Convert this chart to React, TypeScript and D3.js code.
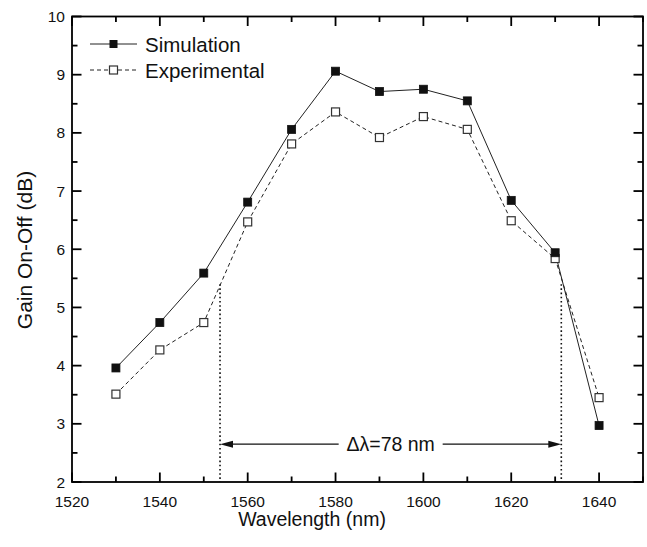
import React from "react";
import * as d3 from "d3";

const wavelengths = [1530, 1540, 1550, 1560, 1570, 1580, 1590, 1600, 1610, 1620, 1630, 1640];
const simulation = [3.96, 4.74, 5.59, 6.81, 8.06, 9.06, 8.71, 8.75, 8.55, 6.84, 5.94, 2.97];
const experimental = [3.51, 4.27, 4.74, 6.47, 7.81, 8.36, 7.92, 8.28, 8.06, 6.49, 5.84, 3.45];
const xTicks = [1520, 1540, 1560, 1580, 1600, 1620, 1640];
const yTicks = [2, 3, 4, 5, 6, 7, 8, 9, 10];
const bandEdges = [1553.7, 1631.4];
const bandTop = 5.4;
const arrowLevel = 2.65;
const bandLabel = "\u0394\u03bb=78 nm";

const W = 647;
const H = 547;
const M = { left: 72, right: 4, top: 16.5, bottom: 65 };

export default function App() {
  const x = d3.scaleLinear().domain([1520, 1650]).range([M.left, W - M.right]);
  const y = d3.scaleLinear().domain([2, 10]).range([H - M.bottom, M.top]);
  const x0 = M.left, x1 = W - M.right, y0 = H - M.bottom, y1 = M.top;
  const font = "Liberation Sans, Arial, sans-serif";

  const line = d3
    .line<number>()
    .x((_, i) => x(wavelengths[i]))
    .y((d) => y(d));

  const xMinor = d3.range(1520, 1651, 10);
  const yMinor = d3.range(2, 10.01, 0.5);
  const isMajorX = (v: number) => v % 20 === 0;
  const isMajorY = (v: number) => Math.abs(v - Math.round(v)) < 1e-6;

  const ms = 8;
  const ay = y(arrowLevel);
  const ax0 = x(bandEdges[0]);
  const ax1 = x(bandEdges[1]);
  const mid = (ax0 + ax1) / 2;
  const gapHalf = 52;

  const tickRects: { x: number; y: number; w: number; h: number }[] = [];
  const tw = 1.8;
  xMinor.forEach((v) => {
    const L = isMajorX(v) ? 9.5 : 5.5;
    const px = x(v) - tw / 2;
    tickRects.push({ x: px, y: y0 - L, w: tw, h: L });
    tickRects.push({ x: px, y: y1, w: tw, h: L });
  });
  yMinor.forEach((v) => {
    const L = isMajorY(v) ? 9.5 : 5.5;
    const py = y(v) - tw / 2;
    tickRects.push({ x: x0, y: py, w: L, h: tw });
    tickRects.push({ x: x1 - L, y: py, w: L, h: tw });
  });

  return (
    <svg width={W} height={H} style={{ position: "absolute", left: 0, top: 0 }} fontFamily={font}>
      <rect width={W} height={H} fill="#fff" />
      <rect x={x0} y={y1} width={x1 - x0} height={y0 - y1} fill="none" stroke="#000" strokeWidth={1.8} />
      <g fill="#000">
        {tickRects.map((r, i) => (
          <rect key={"t" + i} x={r.x} y={r.y} width={r.w} height={r.h} />
        ))}
      </g>
      {xTicks.map((v) => (
        <text key={"xl" + v} x={x(v)} y={y0 + 24.5} fontSize={15.5} textAnchor="middle" fill="#111">
          {v}
        </text>
      ))}
      {yTicks.map((v) => (
        <text key={"yl" + v} x={x0 - 7} y={y(v) + 5.5} fontSize={15.5} textAnchor="end" fill="#111">
          {v}
        </text>
      ))}
      <text x={312} y={H - 21} fontSize={19.5} textAnchor="middle" fill="#111">
        Wavelength (nm)
      </text>
      <text
        transform={`translate(32,${250}) rotate(-90)`}
        fontSize={21}
        textAnchor="middle"
        fill="#111"
      >
        Gain On-Off (dB)
      </text>

      {bandEdges.map((v) => (
        <line
          key={"be" + v}
          x1={x(v)}
          x2={x(v)}
          y1={y(bandTop)}
          y2={y0}
          stroke="#111"
          strokeWidth={1.6}
          strokeDasharray="1.6,2.6"
        />
      ))}
      <line x1={ax0 + 10} x2={mid - gapHalf} y1={ay} y2={ay} stroke="#111" strokeWidth={1.3} />
      <line x1={mid + gapHalf} x2={ax1 - 10} y1={ay} y2={ay} stroke="#111" strokeWidth={1.3} />
      <path d={`M${ax0},${ay} L${ax0 + 13},${ay - 3.5} L${ax0 + 13},${ay + 3.5} Z`} fill="#111" />
      <path d={`M${ax1},${ay} L${ax1 - 13},${ay - 3.5} L${ax1 - 13},${ay + 3.5} Z`} fill="#111" />
      <text x={mid} y={ay + 7} fontSize={19.5} textAnchor="middle" fill="#111">
        {bandLabel}
      </text>

      <path d={line(experimental) || ""} fill="none" stroke="#222" strokeWidth={1} strokeDasharray="4,3" />
      <path d={line(simulation) || ""} fill="none" stroke="#222" strokeWidth={1} />
      {experimental.map((v, i) => (
        <rect
          key={"e" + i}
          x={x(wavelengths[i]) - ms / 2}
          y={y(v) - ms / 2}
          width={ms}
          height={ms}
          fill="#fff"
          stroke="#333"
          strokeWidth={1.2}
        />
      ))}
      {simulation.map((v, i) => (
        <rect
          key={"s" + i}
          x={x(wavelengths[i]) - ms / 2}
          y={y(v) - ms / 2}
          width={ms}
          height={ms}
          fill="#111"
          stroke="#111"
          strokeWidth={0.8}
        />
      ))}

      <line x1={90} x2={137} y1={44} y2={44} stroke="#222" strokeWidth={1} />
      <rect x={113.5 - ms / 2} y={44 - ms / 2} width={ms} height={ms} fill="#111" />
      <text x={145} y={51.5} fontSize={20.5} fill="#111">Simulation</text>
      <line x1={90} x2={137} y1={70} y2={70} stroke="#222" strokeWidth={1} strokeDasharray="4,3" />
      <rect x={113.5 - ms / 2} y={70 - ms / 2} width={ms} height={ms} fill="#fff" stroke="#333" strokeWidth={1.2} />
      <text x={145} y={77.5} fontSize={20.5} fill="#111">Experimental</text>
    </svg>
  );
}
